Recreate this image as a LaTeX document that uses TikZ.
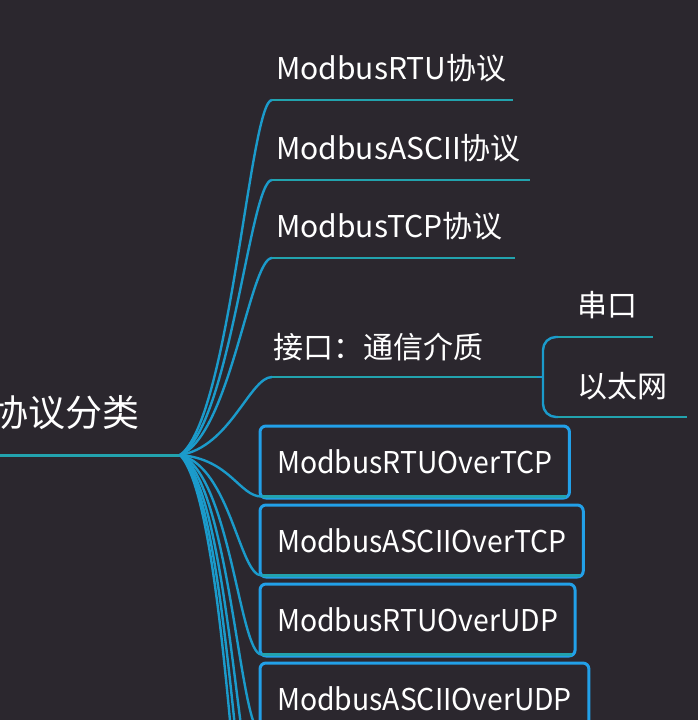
\documentclass[tikz,border=0pt]{standalone}
\usepackage{fontspec}
\setmainfont{Noto Sans CJK SC}
\newfontfamily\boxfont{Noto Sans CJK SC}[FakeStretch=0.945]
\usepackage{tikz}
\usetikzlibrary{calc}

\definecolor{bgdark}{HTML}{2B272E}
\definecolor{linkblue}{HTML}{1B9BCB}
\definecolor{lineteal}{HTML}{22A3AE}
\definecolor{boxblue}{HTML}{22A0E8}

\begin{document}
\begin{tikzpicture}[x=1pt, y=-1pt,
    leaf/.style={anchor=base west, inner sep=0pt, text=white, font=\fontsize{30}{36}\selectfont},
    box/.style={draw=boxblue, line width=3pt, rounded corners=6pt, fill=bgdark, anchor=west,
                inner xsep=17pt, inner ysep=0pt, minimum height=72pt, text=white, font=\boxfont\fontsize{30}{36}\selectfont},
    link/.style={draw=linkblue, line width=2.4pt},
    uline/.style={draw=lineteal, line width=2.4pt},
]
  \useasboundingbox (0,0) rectangle (698,720);
  \fill[bgdark] (0,0) rectangle (698,720);
  \clip (0,0) rectangle (698,720);

  % root
  \node[anchor=base east, inner sep=0pt, text=white, font=\fontsize{37}{44}\selectfont] (root) at (140,426) {协议分类};
  \coordinate (rootstart) at (0,455);
  \coordinate (hub) at (180,455);
  \draw[uline, line width=3pt] (rootstart) -- (hub);

  % upper branches
  \node[leaf] (rtu)   at (276,79)  {ModbusRTU协议};
  \node[leaf] (ascii) at (276,159) {ModbusASCII协议};
  \node[leaf] (tcp)   at (276,237) {ModbusTCP协议};
  \node[leaf] (iface) at (273,358) {接口：通信介质};
  \foreach \nm/\yy/\xe in {rtu/100/513, ascii/180/530, tcp/258/515, iface/377/537} {
    \coordinate (\nm-a) at (272,\yy);
    \coordinate (\nm-b) at (\xe,\yy);
    \draw[uline] (\nm-a) -- (\nm-b);
    \draw[link] (hub) .. controls +(50,{0.1*(\yy-455)}) and +(-22,0) .. (\nm-a);
  }

  % interface sub-branches
  \coordinate (fork) at (543,377);
  \node[leaf] (serial) at (577,316) {串口};
  \node[leaf] (eth)    at (577,397) {以太网};
  \coordinate (serial-a) at (558,337);
  \coordinate (serial-b) at (653,337);
  \coordinate (eth-a) at (558,417);
  \coordinate (eth-b) at (687,417);
  \draw[link] (iface-b) -- (fork);
  \draw[link, rounded corners=13pt] (serial-a) -- (fork |- serial-a) -- (fork |- eth-a) -- (eth-a);
  \draw[uline] (serial-a) -- (serial-b);
  \draw[uline] (eth-a) -- (eth-b);

  % boxed branches
  \foreach \nm/\yy/\txt in {rtutcp/462/ModbusRTUOverTCP, asciitcp/541/ModbusASCIIOverTCP,
                            rtuudp/620/ModbusRTUOverUDP, asciiudp/699/ModbusASCIIOverUDP} {
    \node[box] (\nm) at (258.5,\yy) {\txt};
    \coordinate (\nm-a) at ($(\nm.south west)+(3,-3)$);
    \coordinate (\nm-b) at ($(\nm.south east)+(-5,-3)$);
    \draw[uline] (\nm-a) -- (\nm-b);
    \draw[link] (hub) .. controls +(50,{0.1*(\yy+33-455)}) and +(-22,0) .. (\nm-a);
  }

  % branches running off the bottom
  \foreach \nm/\yy in {offa/813, offb/891, offc/969} {
    \coordinate (\nm) at (261,\yy);
    \draw[link] (hub) .. controls +(50,{0.1*(\yy-455)}) and +(-22,0) .. (\nm);
  }
\end{tikzpicture}
\end{document}
